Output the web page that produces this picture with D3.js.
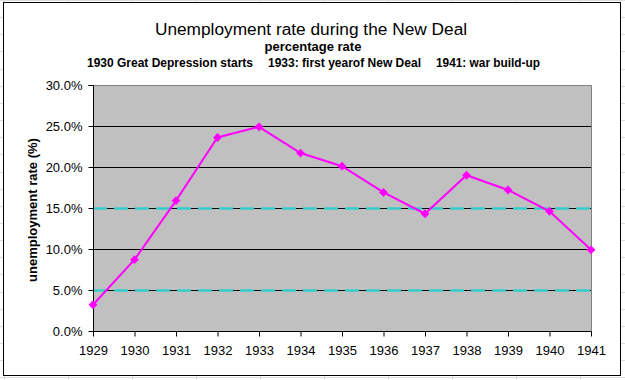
<!DOCTYPE html>
<html>
<head>
<meta charset="utf-8">
<script src="https://cdn.jsdelivr.net/npm/d3@7"></script>
<style>
  html, body { margin: 0; padding: 0; background: #fff; }
  svg { display: block; }
</style>
</head>
<body>
<svg id="chart" width="625" height="380"></svg>
<script>
// ---- data ----
const years = ["1929","1930","1931","1932","1933","1934","1935","1936","1937","1938","1939","1940","1941"];
const unemployment = [3.2, 8.7, 15.9, 23.6, 24.9, 21.7, 20.1, 16.9, 14.3, 19.0, 17.2, 14.6, 9.9];
const yTicks = [0, 5, 10, 15, 20, 25, 30];
const referenceLines = [5, 15];
const titleText = "Unemployment rate during the New Deal";
const subtitleText = "percentage rate";
const notes = ["1930 Great Depression starts", "1933: first yearof New Deal", "1941: war build-up"];
const yAxisTitle = "unemployment rate (%)";

const W = 625, H = 380;
const plot = { left: 93, top: 85, right: 591, bottom: 331 };
const svg = d3.select("#chart");
const ff = "'Liberation Sans', Arial, sans-serif";

// spreadsheet cell lines in the background
const bg = svg.append("g");
bg.append("rect").attr("width", W).attr("height", H).attr("fill", "#fff");
d3.range(0, 23).forEach(k => {
  const yy = Math.round(17.15 * k) + 0.5;
  bg.append("line").attr("x1", 0).attr("x2", W).attr("y1", yy).attr("y2", yy)
    .attr("stroke", "#dcdcdc").attr("stroke-width", 1);
});
d3.range(0, 11).forEach(k => {
  const xx = 4 + 64 * k + 0.5;
  bg.append("line").attr("x1", xx).attr("x2", xx).attr("y1", 0).attr("y2", H)
    .attr("stroke", "#dcdcdc").attr("stroke-width", 1);
});

// chart area
svg.append("rect").attr("x", 3.5).attr("y", 2.5).attr("width", 617).attr("height", 373)
  .attr("fill", "#fff").attr("stroke", "#000").attr("stroke-width", 1);

const x = d3.scalePoint().domain(years).range([plot.left, plot.right]);
const y = d3.scaleLinear().domain([0, 30]).range([plot.bottom, plot.top]);

// plot background
svg.append("rect").attr("x", plot.left).attr("y", plot.top)
  .attr("width", plot.right - plot.left).attr("height", plot.bottom - plot.top)
  .attr("fill", "#c0c0c0");
svg.append("path")
  .attr("d", `M${plot.left},${plot.top + 0.5}H${plot.right + 0.5}V${plot.bottom}`)
  .attr("fill", "none").attr("stroke", "#808080").attr("stroke-width", 1);

// gridlines
svg.append("g").selectAll("line").data(yTicks.filter(t => t > 0 && t < 30)).join("line")
  .attr("x1", plot.left).attr("x2", plot.right)
  .attr("y1", d => Math.round(y(d)) + 0.5).attr("y2", d => Math.round(y(d)) + 0.5)
  .attr("stroke", "#000").attr("stroke-width", 1);

// reference lines (cyan dashed)
svg.append("g").selectAll("line").data(referenceLines).join("line")
  .attr("x1", plot.left).attr("x2", plot.right)
  .attr("y1", d => Math.round(y(d)) + 0.5).attr("y2", d => Math.round(y(d)) + 0.5)
  .attr("stroke", "#33cccc").attr("stroke-width", 2.5)
  .attr("stroke-dasharray", "14,7");

// axes
const yAxis = d3.axisLeft(y).tickValues(yTicks).tickSize(5).tickPadding(6)
  .tickFormat(d => d.toFixed(1) + "%");
const gy = svg.append("g").attr("transform", `translate(${plot.left + 0.5},0)`).call(yAxis);
const xAxis = d3.axisBottom(x).tickSize(5).tickPadding(9);
const gx = svg.append("g").attr("transform", `translate(0,${plot.bottom + 0.5})`).call(xAxis);
[gx, gy].forEach(g => {
  g.select(".domain").attr("stroke", "#000");
  g.selectAll(".tick line").attr("stroke", "#000");
  g.selectAll("text").attr("font-family", ff)
    .attr("font-size", 13).attr("fill", "#000");
});
gy.select(".domain").attr("d", `M-5,${plot.top + 0.5}H0V${plot.bottom}`);
gx.select(".domain").attr("d", `M${plot.left},0H${plot.right + 0.5}`);

// line
const pts = years.map((yr, i) => ({ yr, v: unemployment[i] }));
svg.append("path").datum(pts)
  .attr("d", d3.line().x(d => x(d.yr)).y(d => y(d.v)))
  .attr("fill", "none").attr("stroke", "#ff00ff").attr("stroke-width", 2);
svg.append("g").selectAll("path").data(pts).join("path")
  .attr("transform", d => `translate(${x(d.yr)},${y(d.v)})`)
  .attr("d", d3.symbol(d3.symbolDiamond2, 50)())
  .attr("fill", "#ff00ff");

// titles
svg.append("text").attr("x", 311).attr("y", 35).attr("text-anchor", "middle")
  .attr("font-family", ff).attr("font-size", 17.3).text(titleText);
svg.append("text").attr("x", 313).attr("y", 51).attr("text-anchor", "middle")
  .attr("font-family", ff).attr("font-size", 13).attr("font-weight", "bold").text(subtitleText);
const noteX = [87, 268, 436];
const noteW = [166, 153, 104];
notes.forEach((t, i) => {
  svg.append("text").attr("x", noteX[i]).attr("y", 67)
    .attr("font-family", ff).attr("font-size", 12).attr("font-weight", "bold")
    .attr("textLength", noteW[i]).attr("lengthAdjust", "spacingAndGlyphs").text(t);
});
svg.append("text").attr("transform", `translate(37,210) rotate(-90)`)
  .attr("text-anchor", "middle").attr("font-family", ff).attr("font-size", 13)
  .attr("font-weight", "bold").text(yAxisTitle);
</script>
</body>
</html>
